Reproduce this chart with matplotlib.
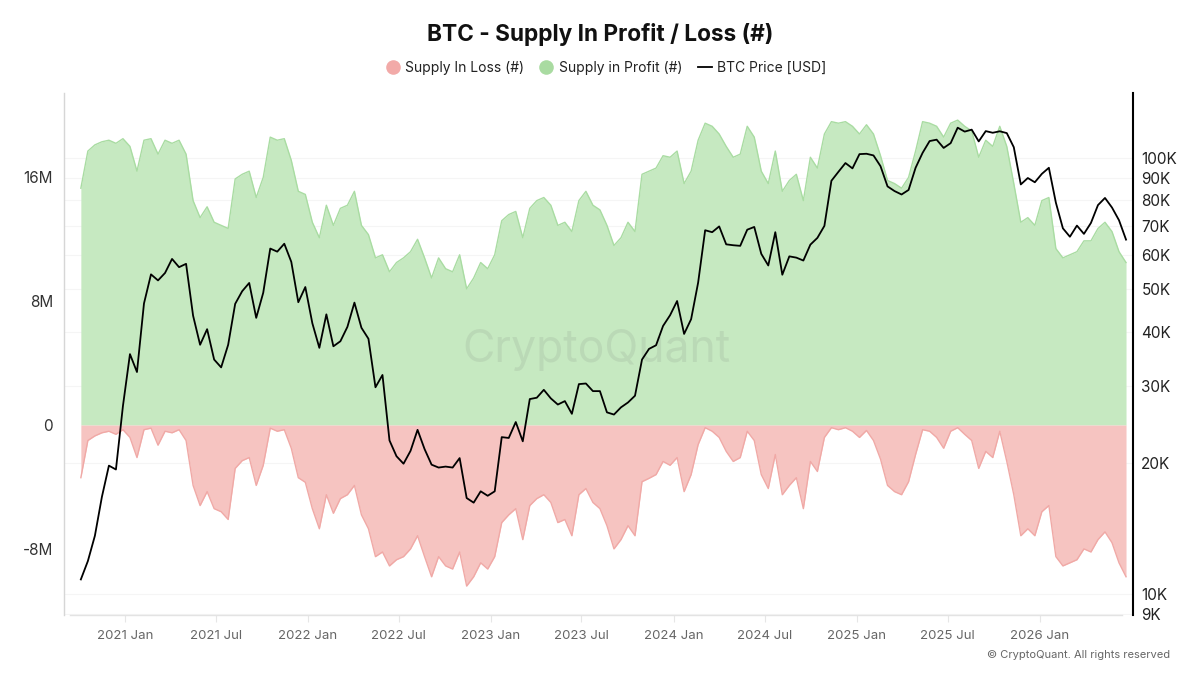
import matplotlib
matplotlib.use("Agg")
import matplotlib.pyplot as plt
import matplotlib.transforms as mtransforms
import matplotlib.dates as mdates
from matplotlib.lines import Line2D
from matplotlib.ticker import NullLocator
import pandas as pd

plt.rcParams['font.family'] = ['Inter', 'DejaVu Sans']

# ---------------- data (14-day samples) ----------------
dates = pd.date_range('2020-10-05', periods=150, freq='14D')

supply_profit_m = [
    15.3, 17.7, 18.1, 18.3, 18.4, 18.2, 18.5, 18.0, 16.4, 18.4,
    18.5, 17.5, 18.4, 18.2, 18.4, 17.5, 14.5, 13.4, 14.1, 13.1,
    12.9, 12.7, 15.9, 16.2, 16.4, 14.7, 16.0, 18.6, 18.4, 18.5,
    17.1, 15.1, 14.9, 13.1, 12.1, 14.2, 12.9, 14.0, 14.2, 15.1,
    12.9, 12.3, 10.8, 11.0, 9.9, 10.5, 10.8, 11.2, 12.0, 10.8,
    9.5, 10.8, 10.1, 9.9, 11.0, 8.8, 9.5, 10.5, 10.1, 11.0,
    13.2, 13.6, 13.8, 12.1, 14.0, 14.5, 14.7, 14.2, 12.9, 13.1,
    12.5, 14.5, 15.1, 14.2, 13.9, 12.9, 11.6, 12.1, 13.1, 12.5,
    16.2, 16.4, 16.6, 17.4, 17.3, 17.7, 15.6, 16.4, 18.4, 19.5,
    19.3, 18.8, 18.0, 17.3, 17.5, 19.3, 18.6, 16.4, 15.6, 17.7,
    15.1, 15.8, 16.2, 14.5, 17.3, 16.6, 18.8, 19.6, 19.5, 19.6,
    19.3, 18.8, 19.4, 18.8, 17.4, 15.8, 15.6, 15.3, 16.0, 17.7,
    19.6, 19.5, 19.3, 18.6, 19.5, 19.7, 19.3, 19.0, 17.3, 18.4,
    18.0, 19.3, 18.0, 15.6, 13.1, 13.4, 12.9, 14.5, 14.7, 11.4,
    10.8, 11.0, 11.2, 11.9, 11.9, 12.7, 13.1, 12.5, 11.2, 10.5,
]

supply_loss_m = [
    -3.4, -1.0, -0.7, -0.5, -0.4, -0.6, -0.3, -0.8, -2.1, -0.3,
    -0.2, -1.3, -0.4, -0.5, -0.3, -1.0, -3.9, -5.2, -4.3, -5.4,
    -5.6, -6.1, -2.8, -2.3, -2.1, -3.9, -2.6, -0.2, -0.4, -0.3,
    -1.5, -3.4, -3.7, -5.4, -6.7, -4.5, -5.7, -4.75, -4.5, -3.9,
    -5.8, -6.7, -8.5, -8.2, -9.1, -8.7, -8.5, -8.0, -7.15, -8.5,
    -9.8, -8.5, -9.1, -9.3, -8.2, -10.4, -9.8, -8.9, -9.3, -8.5,
    -6.3, -5.8, -5.4, -7.4, -5.2, -4.75, -4.5, -5.0, -6.3, -6.1,
    -7.15, -4.5, -4.1, -5.0, -5.4, -6.5, -8.0, -7.4, -6.5, -7.15,
    -3.66, -3.44, -3.2, -2.35, -2.6, -2.1, -4.3, -3.2, -1.26, -0.17,
    -0.4, -0.8, -1.7, -2.35, -2.1, -0.4, -1.0, -3.2, -4.1, -1.9,
    -4.5, -3.9, -3.4, -5.4, -2.35, -3.0, -0.8, -0.17, -0.3, -0.17,
    -0.4, -0.8, -0.35, -1.0, -2.2, -3.9, -4.3, -4.5, -3.66, -1.9,
    -0.3, -0.4, -0.8, -1.5, -0.4, -0.17, -0.6, -1.0, -2.8, -1.7,
    -2.1, -0.4, -2.35, -4.5, -7.15, -6.7, -7.15, -5.6, -5.2, -8.5,
    -9.1, -8.9, -8.7, -8.0, -8.2, -7.4, -6.9, -7.6, -8.9, -9.8,
]

btc_price_k = [
    10.8, 11.9, 13.6, 16.7, 19.7, 19.3, 27.0, 35.5, 32.3, 46.4,
    54.1, 52.4, 54.5, 58.7, 56.2, 57.2, 43.5, 37.3, 40.5, 34.5,
    33.1, 37.3, 46.3, 49.5, 51.7, 43.0, 49.1, 62.0, 61.0, 63.6,
    57.8, 46.7, 50.6, 41.8, 36.7, 43.8, 37.0, 38.0, 41.0, 46.6,
    40.8, 38.5, 29.8, 31.8, 22.5, 20.7, 19.9, 21.3, 23.8, 21.5,
    19.8, 19.5, 19.6, 19.5, 20.5, 16.6, 16.2, 17.2, 16.8, 17.2,
    22.9, 22.8, 24.8, 22.4, 28.0, 28.2, 29.4, 28.1, 27.2, 27.7,
    25.9, 30.3, 30.4, 29.2, 29.2, 26.1, 25.8, 26.8, 27.5, 28.5,
    34.5, 36.5, 37.2, 41.2, 43.6, 47.0, 39.5, 42.7, 51.8, 68.3,
    67.6, 69.7, 63.4, 63.1, 62.9, 68.5, 69.5, 60.3, 56.7, 67.6,
    54.0, 59.5, 59.1, 58.2, 63.3, 65.6, 69.9, 88.7, 93.0, 97.4,
    94.7, 102.1, 102.3, 101.4, 95.8, 86.1, 84.0, 82.5, 84.5, 95.0,
    102.8, 109.4, 110.2, 105.5, 108.2, 117.4, 115.0, 116.2, 109.2, 115.3,
    114.3, 115.2, 114.1, 105.9, 87.0, 90.0, 88.0, 92.0, 95.0, 79.0,
    69.0, 66.0, 70.0, 67.0, 71.0, 78.0, 81.0, 77.0, 72.0, 65.0,
]

left_ticks = [-8, 0, 8, 16]
left_labels = ['-8M', '0', '8M', '16M']
right_ticks = [9000, 10000, 20000, 30000, 40000, 50000, 60000, 70000, 80000, 90000, 100000]
right_labels = ['9K', '10K', '20K', '30K', '40K', '50K', '60K', '70K', '80K', '90K', '100K']
x_ticks = pd.to_datetime(['2021-01-01', '2021-07-01', '2022-01-01', '2022-07-01', '2023-01-01',
                          '2023-07-01', '2024-01-01', '2024-07-01', '2025-01-01', '2025-07-01',
                          '2026-01-01'])
x_labels = ['2021 Jan', '2021 Jul', '2022 Jan', '2022 Jul', '2023 Jan', '2023 Jul',
            '2024 Jan', '2024 Jul', '2025 Jan', '2025 Jul', '2026 Jan']

# ---------------- styling ----------------
green_fill = '#c6e9c1'
green_line = '#a9dca2'
red_fill = '#f6c4c1'
red_line = '#f0a9a6'

fig = plt.figure(figsize=(12, 6.75), dpi=100)
ax = fig.add_axes([0.0536, 0.0889, 0.8906, 0.7733])
ax2 = ax.twinx()

price = [p * 1000 for p in btc_price_k]

ax.set_xlim(pd.Timestamp('2020-09-02'), pd.Timestamp('2026-07-06'))
ax.set_ylim(-12.27, 21.45)
ax2.set_yscale('log')
ax2.set_ylim(8950, 141000)

# faint gridlines at the price ticks, drawn behind the fills
trans = mtransforms.blended_transform_factory(ax.transAxes, ax2.transData)
ax.hlines(right_ticks, 0, 1, transform=trans, colors='#f5f5f5', linewidth=0.8, zorder=0)

ax.fill_between(dates, 0, supply_profit_m, color=green_fill, linewidth=0, zorder=1)
ax.plot(dates, supply_profit_m, color=green_line, linewidth=1.0, zorder=2)
ax.fill_between(dates, 0, supply_loss_m, color=red_fill, linewidth=0, zorder=1)
ax.plot(dates, supply_loss_m, color=red_line, linewidth=1.0, zorder=2)

ax.text(0.498, 0.508, 'CryptoQuant', transform=ax.transAxes, ha='center', va='center',
        fontsize=32, color='#6f6f6f', alpha=0.13, zorder=3)

ax2.plot(dates, price, color='#000000', linewidth=1.3, zorder=5)

# axes decoration
ax.set_yticks(left_ticks)
ax.set_yticklabels(left_labels)
ax.tick_params(axis='y', length=0, pad=8, labelsize=11, labelcolor='#333333')
ax.set_xticks(x_ticks)
ax.set_xticklabels(x_labels)
ax.tick_params(axis='x', length=5, width=0.8, color='#e6e6e6', pad=6, labelsize=9.5,
               labelcolor='#666666')

ax2.yaxis.set_minor_locator(NullLocator())
ax2.set_yticks(right_ticks)
ax2.set_yticklabels(right_labels)
ax2.tick_params(axis='y', length=0, pad=6, labelsize=11, labelcolor='#222222')

for s in ['top', 'right']:
    ax.spines[s].set_visible(False)
ax.spines['left'].set_color('#d6d6d6')
ax.spines['left'].set_linewidth(1.0)
ax.spines['bottom'].set_color('#e3e3e3')
ax.spines['bottom'].set_linewidth(1.0)
ax.spines['bottom'].set_bounds(mdates.date2num(pd.Timestamp('2020-09-14')),
                               mdates.date2num(pd.Timestamp('2026-06-14')))
for s in ['top', 'left', 'bottom']:
    ax2.spines[s].set_visible(False)
ax2.spines['right'].set_color('#000000')
ax2.spines['right'].set_linewidth(1.5)

# title & legend
fig.text(0.5, 1 - 35 / 675, 'BTC - Supply In Profit / Loss (#)', ha='center', va='center',
         fontsize=16.3, fontweight='bold', color='#111111')

handles = [
    Line2D([], [], marker='o', linestyle='none', markersize=10.5, markerfacecolor='#f2aaa8',
           markeredgecolor='none'),
    Line2D([], [], marker='o', linestyle='none', markersize=10.5, markerfacecolor='#a9dba1',
           markeredgecolor='none'),
    Line2D([], [], color='#000000', linewidth=1.3),
]
fig.legend(handles, ['Supply In Loss (#)', 'Supply in Profit (#)', 'BTC Price [USD]'],
           loc='center', bbox_to_anchor=(0.505, 1 - 68 / 675), ncol=3, frameon=False,
           fontsize=10, handlelength=1.0, handletextpad=0.4, columnspacing=1.1,
           labelcolor='#222222')

fig.text(1170 / 1200, 1 - 655 / 675, '© CryptoQuant. All rights reserved', ha='right',
         va='center', fontsize=8, color='#666666')

fig.savefig('out.png', dpi=100, facecolor='white')
